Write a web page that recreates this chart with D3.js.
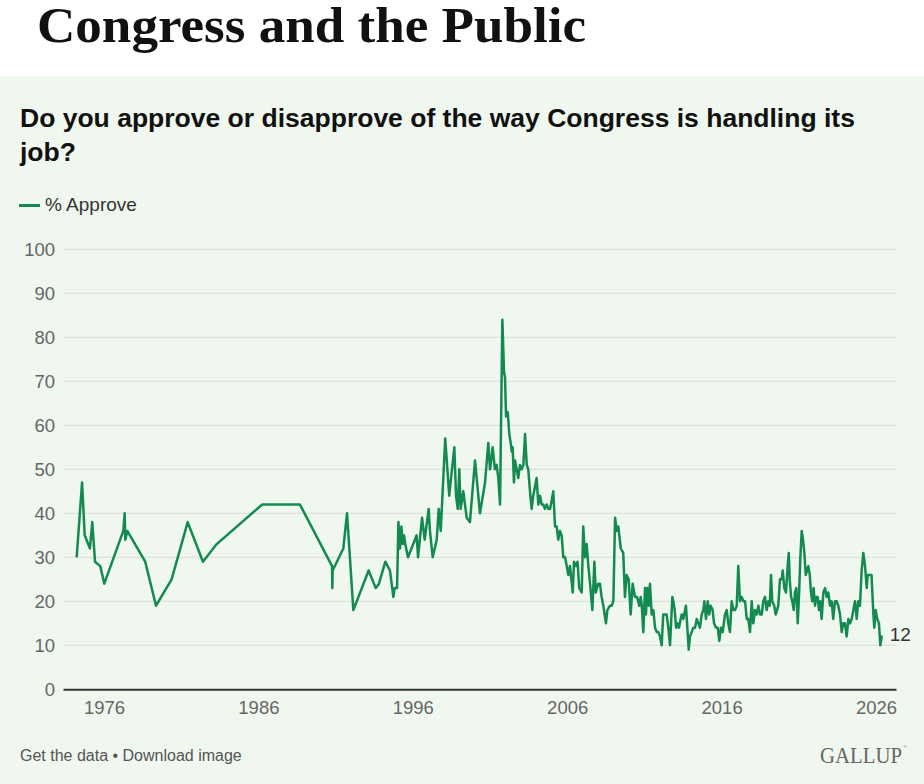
<!DOCTYPE html>
<html>
<head>
<meta charset="utf-8">
<script src="https://cdn.jsdelivr.net/npm/d3@7"></script>
<style>
  body { margin: 0; background: #fff; }
  svg { display: block; }
</style>
</head>
<body>
<div id="chart"></div>
<script>
const width = 924;
const height = 784;

const title = 'Congress and the Public';
const question = ['Do you approve or disapprove of the way Congress is handling its', 'job?'];
const seriesName = '% Approve';
const xTicks = [1976, 1986, 1996, 2006, 2016, 2026];
const yTicks = [0, 10, 20, 30, 40, 50, 60, 70, 80, 90, 100];

// poll dates as decimal years
const years = [
  1974.23, 1974.58, 1974.75, 1975.09, 1975.24, 1975.42, 1975.76, 1976.02, 1977.25, 1977.34,
  1977.38, 1977.51, 1978.67, 1979.37, 1980.38, 1981.42, 1982.41, 1983.30, 1986.25, 1988.69,
  1990.77, 1990.79, 1990.81, 1991.50, 1991.74, 1992.15, 1993.14, 1993.60, 1993.81, 1994.22,
  1994.52, 1994.74, 1994.83, 1994.98, 1995.07, 1995.17, 1995.26, 1995.35, 1995.43, 1995.51,
  1995.69, 1996.25, 1996.34, 1996.60, 1996.77, 1997.03, 1997.11, 1997.29, 1997.55, 1997.68,
  1997.81, 1998.10, 1998.36, 1998.69, 1998.80, 1998.91, 1999.01, 1999.10, 1999.27, 1999.49,
  1999.70, 2000.03, 2000.35, 2000.68, 2000.89, 2001.00, 2001.11, 2001.17, 2001.32, 2001.43,
  2001.54, 2001.65, 2001.80, 2001.91, 2001.97, 2002.04, 2002.15, 2002.25, 2002.34, 2002.41,
  2002.47, 2002.55, 2002.62, 2002.73, 2002.83, 2002.94, 2003.05, 2003.16, 2003.27, 2003.38,
  2003.48, 2003.59, 2003.70, 2003.80, 2003.91, 2004.02, 2004.13, 2004.24, 2004.35, 2004.45,
  2004.56, 2004.67, 2004.78, 2004.89, 2005.00, 2005.10, 2005.21, 2005.32, 2005.42, 2005.53,
  2005.64, 2005.75, 2005.86, 2005.97, 2006.07, 2006.18, 2006.36, 2006.44, 2006.57, 2006.67,
  2006.78, 2006.94, 2007.04, 2007.15, 2007.26, 2007.37, 2007.48, 2007.63, 2007.76, 2007.85,
  2008.01, 2008.12, 2008.23, 2008.34, 2008.51, 2008.60, 2008.77, 2008.88, 2008.99, 2009.10,
  2009.21, 2009.31, 2009.47, 2009.63, 2009.74, 2009.85, 2009.98, 2010.11, 2010.24, 2010.39,
  2010.52, 2010.67, 2010.76, 2010.83, 2010.93, 2011.04, 2011.10, 2011.19, 2011.28, 2011.36,
  2011.47, 2011.58, 2011.69, 2011.80, 2011.90, 2012.01, 2012.12, 2012.22, 2012.33, 2012.44,
  2012.55, 2012.66, 2012.81, 2012.87, 2012.96, 2013.05, 2013.13, 2013.24, 2013.35, 2013.42,
  2013.52, 2013.69, 2013.78, 2013.87, 2013.95, 2014.06, 2014.17, 2014.28, 2014.39, 2014.49,
  2014.60, 2014.71, 2014.82, 2014.88, 2014.99, 2015.10, 2015.20, 2015.29, 2015.42, 2015.51,
  2015.64, 2015.75, 2015.85, 2015.96, 2016.07, 2016.22, 2016.33, 2016.43, 2016.54, 2016.65,
  2016.76, 2016.87, 2016.98, 2017.08, 2017.19, 2017.30, 2017.41, 2017.52, 2017.63, 2017.73,
  2017.84, 2017.95, 2018.05, 2018.16, 2018.27, 2018.38, 2018.49, 2018.60, 2018.70, 2018.81,
  2018.92, 2019.02, 2019.12, 2019.20, 2019.28, 2019.41, 2019.50, 2019.59, 2019.67, 2019.78,
  2019.89, 2019.96, 2020.06, 2020.17, 2020.28, 2020.35, 2020.41, 2020.50, 2020.58, 2020.67,
  2020.75, 2020.84, 2020.93, 2021.01, 2021.10, 2021.19, 2021.27, 2021.36, 2021.45, 2021.53,
  2021.62, 2021.71, 2021.79, 2021.87, 2021.96, 2022.05, 2022.13, 2022.22, 2022.31, 2022.39,
  2022.48, 2022.59, 2022.70, 2022.81, 2022.91, 2023.02, 2023.13, 2023.23, 2023.34, 2023.45,
  2023.56, 2023.67, 2023.78, 2023.88, 2023.99, 2024.10, 2024.21, 2024.32, 2024.43, 2024.53,
  2024.64, 2024.75, 2024.85, 2024.96, 2025.07, 2025.18, 2025.29, 2025.40, 2025.46, 2025.55,
  2025.63, 2025.71, 2025.79, 2025.83, 2025.89, 2025.98, 2026.08, 2026.19, 2026.28, 2026.37,
  2026.43
];

const approve = [
  30, 47, 35, 32, 38, 29, 28, 24, 36, 40,
  34, 36, 29, 19, 25, 38, 29, 33, 42, 42,
  28, 23, 27, 32, 40, 18, 27, 23, 24, 29,
  27, 21, 23, 23, 38, 32, 37, 33, 35, 33,
  30, 35, 30, 39, 34, 41, 36, 30, 34, 41,
  36, 57, 44, 55, 44, 41, 50, 41, 45, 39,
  38, 52, 40, 47, 56, 50, 53, 55, 50, 51,
  48, 42, 84, 72, 71, 62, 63, 58, 56, 54,
  55, 47, 52, 50, 48, 51, 50, 51, 58, 51,
  50, 45, 41, 44, 46, 48, 42, 44, 42, 42,
  41, 42, 41, 41, 43, 45, 37, 37, 34, 36,
  35, 30, 30, 28, 26, 28, 22, 29, 28, 29,
  23, 22, 37, 30, 33, 28, 24, 18, 29, 22,
  24, 24, 21, 19, 15, 18, 19, 19, 20, 39,
  36, 37, 32, 31, 21, 26, 25, 17, 24, 21,
  21, 19, 21, 19, 13, 23, 17, 23, 19, 24,
  17, 18, 14, 13, 13, 12, 10, 17, 17, 17,
  14, 10, 21, 20, 18, 14, 15, 14, 16, 17,
  16, 19, 14, 9, 12, 13, 14, 14, 16, 15,
  14, 17, 18, 20, 16, 20, 17, 19, 18, 15,
  14, 14, 11, 14, 13, 17, 18, 15, 13, 20,
  18, 18, 19, 28, 20, 21, 20, 20, 16, 16,
  13, 20, 15, 18, 17, 19, 17, 17, 20, 21,
  18, 20, 19, 26, 20, 19, 17, 18, 19, 25,
  25, 27, 23, 22, 28, 31, 25, 21, 20, 18,
  22, 23, 15, 21, 30, 36, 34, 31, 26, 27,
  28, 26, 22, 20, 23, 19, 21, 21, 18, 20,
  16, 22, 23, 21, 22, 19, 20, 16, 20, 20,
  19, 17, 13, 15, 15, 12, 16, 15, 16, 18,
  20, 16, 20, 19, 27, 31, 28, 23, 26, 26,
  26, 26, 20, 17, 14, 18, 16, 15, 10, 12,
  12
];

const data = years.map((y, i) => ({ year: y, value: approve[i] }));

const green = '#138a50';
const sans = "'Liberation Sans', Arial, sans-serif";
const serif = "'Liberation Serif', 'Times New Roman', serif";

const svg = d3.select('#chart')
  .append('svg')
  .attr('width', width)
  .attr('height', height);

// white header, pale green card below
svg.append('rect')
  .attr('x', 0).attr('y', 0)
  .attr('width', width).attr('height', height)
  .attr('fill', '#ffffff');

svg.append('rect')
  .attr('x', 0).attr('y', 76)
  .attr('width', width).attr('height', height - 76)
  .attr('fill', '#f0f7ef');

svg.append('text')
  .attr('x', 37)
  .attr('y', 42)
  .attr('textLength', 549)
  .attr('lengthAdjust', 'spacingAndGlyphs')
  .style('font-family', serif)
  .style('font-weight', 'bold')
  .style('font-size', '51px')
  .attr('fill', '#111')
  .text(title);

svg.selectAll('.question')
  .data(question)
  .enter()
  .append('text')
  .attr('class', 'question')
  .attr('x', 20)
  .attr('y', (d, i) => 127 + i * 34)
  .style('font-family', sans)
  .style('font-weight', 'bold')
  .style('font-size', '26.5px')
  .attr('fill', '#111')
  .text(d => d);

// legend
svg.append('line')
  .attr('x1', 19).attr('x2', 40)
  .attr('y1', 205.5).attr('y2', 205.5)
  .attr('stroke', green)
  .attr('stroke-width', 3);

svg.append('text')
  .attr('x', 45)
  .attr('y', 211)
  .style('font-family', sans)
  .style('font-size', '19px')
  .attr('fill', '#333')
  .text(seriesName);

const x = d3.scaleLinear()
  .domain([1973.345, 2027.295])
  .range([63, 896]);

const y = d3.scaleLinear()
  .domain([0, 100])
  .range([689.3, 249.3]);

// gridlines
svg.selectAll('.grid')
  .data(yTicks.filter(d => d > 0))
  .enter()
  .append('line')
  .attr('class', 'grid')
  .attr('x1', 63).attr('x2', 896)
  .attr('y1', d => y(d)).attr('y2', d => y(d))
  .attr('stroke', '#d8dcd8')
  .attr('stroke-width', 1);

const yAxis = svg.append('g')
  .attr('transform', 'translate(55,0)')
  .call(d3.axisLeft(y).tickValues(yTicks).tickSize(0).tickPadding(0));
yAxis.select('.domain').remove();
yAxis.selectAll('text')
  .style('font-family', sans)
  .style('font-size', '18.5px')
  .attr('fill', '#666');

const xAxis = svg.append('g')
  .attr('transform', `translate(0,${y(0)})`)
  .call(d3.axisBottom(x).tickValues(xTicks).tickFormat(d3.format('d')).tickSize(0).tickPadding(12));
xAxis.select('.domain')
  .attr('stroke', '#333')
  .attr('stroke-width', 2);
xAxis.selectAll('text')
  .style('font-family', sans)
  .style('font-size', '18.5px')
  .attr('fill', '#666');

const line = d3.line()
  .x(d => x(d.year))
  .y(d => y(d.value));

svg.append('path')
  .datum(data)
  .attr('d', line)
  .attr('fill', 'none')
  .attr('stroke', green)
  .attr('stroke-width', 2.5)
  .attr('stroke-linejoin', 'round');

const last = data[data.length - 1];
svg.append('text')
  .attr('x', x(last.year) + 7)
  .attr('y', y(last.value) - 2)
  .attr('dy', '0.35em')
  .style('font-family', sans)
  .style('font-size', '19px')
  .attr('fill', '#333')
  .text(last.value);

// footer
svg.append('text')
  .attr('x', 20)
  .attr('y', 761)
  .style('font-family', sans)
  .style('font-size', '16px')
  .attr('fill', '#555')
  .text('Get the data \u2022 Download image');

const logo = svg.append('text')
  .attr('x', 820)
  .attr('y', 763)
  .style('font-family', serif)
  .attr('fill', '#666');

logo.append('tspan')
  .attr('textLength', 82)
  .attr('lengthAdjust', 'spacingAndGlyphs')
  .style('font-size', '23px')
  .text('GALLUP');

logo.append('tspan')
  .attr('dx', 1)
  .attr('dy', -15)
  .style('font-size', '5px')
  .text('\u00ae');
</script>
</body>
</html>
